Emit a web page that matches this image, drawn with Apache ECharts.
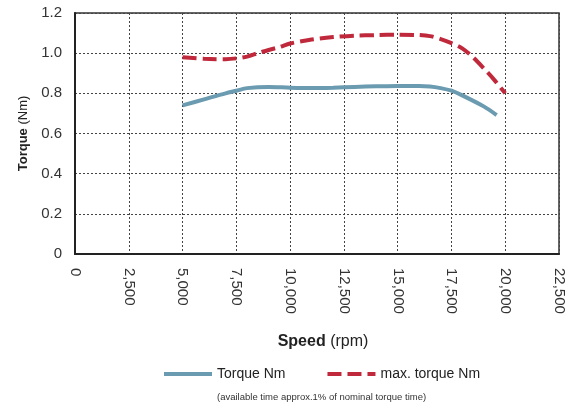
<!DOCTYPE html>
<html><head><meta charset="utf-8">
<script src="https://cdn.jsdelivr.net/npm/echarts@6/dist/echarts.min.js"></script>
<style>html,body{margin:0;padding:0;background:#fff}#c{width:578px;height:405px}</style>
</head><body><div id="c"></div>
<script>
const speedTorque = [5000, 6000, 7000, 7500, 8000, 9000, 10000, 11000, 12000, 13000, 14000, 15000, 16000, 16500, 17000, 17500, 18000, 19000, 19600];
const torque = [0.74, 0.77, 0.80, 0.813, 0.826, 0.832, 0.828, 0.826, 0.828, 0.832, 0.835, 0.836, 0.836, 0.834, 0.826, 0.813, 0.79, 0.735, 0.692];
const speedMax = [5000, 6000, 7000, 7500, 8000, 8500, 9000, 9500, 10000, 11000, 12000, 13000, 14000, 15000, 16000, 16500, 17000, 17500, 18000, 18500, 19000, 19500, 20000];
const maxTorque = [0.98, 0.972, 0.97, 0.974, 0.983, 1.0, 1.016, 1.03, 1.048, 1.068, 1.08, 1.087, 1.09, 1.092, 1.09, 1.085, 1.07, 1.05, 1.024, 0.98, 0.925, 0.866, 0.80];
const seriesNames = ['Torque Nm', 'max. torque Nm'];
const note = '(available time approx.1% of nominal torque time)';

const chart = echarts.init(document.getElementById('c'), null, {renderer: 'canvas'});
const zip = (xs, ys) => xs.map((x, i) => [x, ys[i]]);
const font = 'Liberation Sans, Arial, sans-serif';
chart.setOption({
  animation: false,
  backgroundColor: '#fff',
  grid: {left: 75, right: 19, top: 13, bottom: 151, show: true, borderColor: '#333', borderWidth: 1.5, backgroundColor: 'transparent'},
  xAxis: {
    type: 'value', min: 0, max: 22500, interval: 2500,
    name: '{b|Speed} (rpm)', nameLocation: 'middle', nameGap: 80,
    nameTextStyle: {fontFamily: font, fontSize: 16, color: '#222', padding: [0, 0, 0, 12], rich: {b: {fontWeight: 'bold', fontSize: 16, fontFamily: font, color: '#222'}}},
    axisLine: {show: true, lineStyle: {color: '#222', width: 2}},
    axisTick: {show: false},
    axisLabel: {rotate: -90, margin: 14, fontFamily: font, fontSize: 15, color: '#333',
      formatter: v => v.toLocaleString('en-US')},
    splitLine: {show: true, lineStyle: {type: [2, 2], color: '#444', width: 1}}
  },
  yAxis: {
    type: 'value', min: 0, max: 1.2, interval: 0.2,
    name: '{b|Torque} (Nm)', nameLocation: 'middle', nameGap: 44,
    nameTextStyle: {fontFamily: font, fontSize: 13, color: '#222', rich: {b: {fontWeight: 'bold', fontSize: 13, fontFamily: font, color: '#222'}}},
    axisLine: {show: true, lineStyle: {color: '#222', width: 2}},
    axisTick: {show: false},
    axisLabel: {margin: 13, fontFamily: font, fontSize: 15, color: '#333',
      formatter: v => v === 0 ? '0' : v.toFixed(1)},
    splitLine: {show: true, lineStyle: {type: [2, 2], color: '#444', width: 1}}
  },
  legend: {
    left: 157, top: 362, itemWidth: 48, itemHeight: 14, itemGap: 40,
    itemStyle: {opacity: 0},
    lineStyle: {width: 4},
    textStyle: {fontFamily: font, fontSize: 14, color: '#222'},
    data: seriesNames
  },
  graphic: [{type: 'text', left: 217, top: 392, style: {text: note, font: '9.5px Liberation Sans, Arial, sans-serif', fill: '#333'}}],
  series: [
    {name: seriesNames[0], type: 'line', data: zip(speedTorque, torque), smooth: 0.3, showSymbol: false, symbol: 'none',
      lineStyle: {color: '#6b9bb0', width: 4}, itemStyle: {color: '#6b9bb0'}},
    {name: seriesNames[1], type: 'line', data: zip(speedMax, maxTorque), smooth: 0.3, showSymbol: false, symbol: 'none',
      lineStyle: {color: '#c0283c', width: 4, type: [14, 6]}, itemStyle: {color: '#c0283c'}}
  ]
});
</script></body></html>
